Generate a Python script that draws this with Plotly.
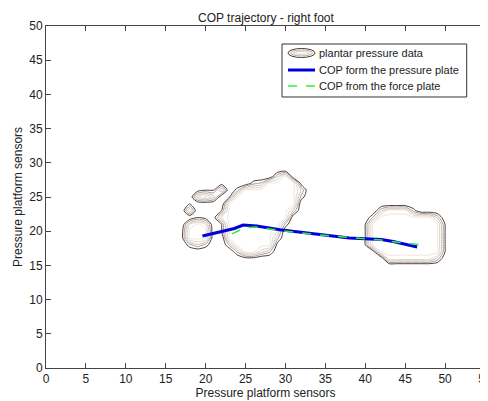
import plotly.graph_objects as go

# ---- data -------------------------------------------------------------
# pressure sensor grid (columns x = 15..51, rows y = 29 .. 15, top to bottom)
sensor_x = list(range(15, 52))
sensor_y = list(range(29, 14, -1))
pressure_rows = [
    "0000000000000000000000000000000000000",  # y=29
    "0000000000000059000000000000000000000",  # y=28
    "0000000100034999910000000000000000000",  # y=27
    "0000122703999999950000000000000000000",  # y=26
    "0000796029999999930000000000000000000",  # y=25
    "0002000099999999900000000000000000000",  # y=24
    "0007000299999999500000000005888300000",  # y=23
    "0000211799999999000000000049999999500",  # y=22
    "0007970299999993000000000299999999920",  # y=21
    "0019990299999970000000000299999999920",  # y=20
    "0019990099999940000000000299999999920",  # y=19
    "0003530049999910000000000299999999920",  # y=18
    "0000000004996400000000000019999999920",  # y=17
    "0000000000110000000000000000888888500",  # y=16
    "0000000000000000000000000000000000000",  # y=15
]

# centre of pressure trajectories
cop_plate_x = [19.6, 22.2, 23.6, 24.7, 26.4, 29.3, 35.6, 38.0, 42.0, 43.5, 46.5]
cop_plate_y = [19.3, 20.0, 20.4, 20.9, 20.75, 20.2, 19.4, 19.0, 18.8, 18.5, 17.7]
cop_force_x = [23.3, 24.9, 26.4, 29.3, 35.6, 42.0, 44.0, 47.1]
cop_force_y = [19.6, 20.5, 20.6, 20.1, 19.3, 18.7, 18.4, 18.0]

x_ticks = list(range(0, 56, 5))
y_ticks = list(range(0, 51, 5))

title_text = "COP trajectory - right foot"
labels = ["plantar pressure data", "COP form the pressure plate", "COP from the force plate"]
axis_label = "Pressure platform sensors"

BLUE = "#0000dd"
GREEN = "#33ee33"

# ---- figure -----------------------------------------------------------
z = [[int(c) for c in row] for row in pressure_rows]

fig = go.Figure()
fig.add_trace(go.Contour(
    x=sensor_x, y=sensor_y, z=z,
    contours=dict(start=2, end=8.5, size=1.625, coloring="lines"),
    colorscale=[[0, "#4a3c38"], [0.25, "#a89a92"], [0.5, "#cabfb6"],
                [0.75, "#ddd4cb"], [1, "#ebe5de"]],
    zauto=False, zmin=2, zmax=8.5,
    line=dict(width=1, smoothing=0.6),
    showscale=False, showlegend=False, hoverinfo="skip",
))
fig.add_trace(go.Scatter(
    x=cop_plate_x, y=cop_plate_y, mode="lines", name=labels[1],
    line=dict(color=BLUE, width=3), showlegend=False,
))
fig.add_trace(go.Scatter(
    x=cop_force_x, y=cop_force_y, mode="lines", name=labels[2],
    line=dict(color=GREEN, width=1.5, dash="dash"), showlegend=False,
))

axis_common = dict(
    ticks="inside", ticklen=5, tickcolor="#444", mirror="allticks",
    showline=True, linecolor="#444", linewidth=1,
    showgrid=False, zeroline=False, automargin=False,
    tickfont=dict(size=12), ticklabeloverflow="allow",
)
fig.update_xaxes(range=[0, 55], tickvals=x_ticks,
                 title=dict(text=axis_label, standoff=0, font=dict(size=12)),
                 **axis_common)
fig.update_yaxes(range=[0, 50], tickvals=y_ticks, **axis_common)

# ---- hand-drawn legend (paper coordinates) ------------------------------
lx0, lx1, ly0, ly1 = 0.5376, 0.9583, 0.7924, 0.9474
row_y = [0.9211, 0.8713, 0.8246]
sx0, sx1, tx = 0.5513, 0.6128, 0.6173
shapes = [dict(type="rect", xref="paper", yref="paper", x0=lx0, x1=lx1, y0=ly0, y1=ly1,
               line=dict(color="#333", width=1), fillcolor="white", layer="above")]
dy = 0.0132
for inset_x, inset_y, col in [(0, 0, "#4a3c38"), (0.006, 0.0045, "#b8aca2"), (0.012, 0.009, "#d8cec4")]:
    shapes.append(dict(type="circle", xref="paper", yref="paper",
                       x0=sx0 + inset_x, x1=sx1 - inset_x,
                       y0=row_y[0] - dy + inset_y, y1=row_y[0] + dy - inset_y,
                       line=dict(color=col, width=1), layer="above"))
shapes.append(dict(type="line", xref="paper", yref="paper", x0=sx0, x1=sx1, y0=row_y[1], y1=row_y[1],
                   line=dict(color=BLUE, width=3), layer="above"))
shapes.append(dict(type="line", xref="paper", yref="paper", x0=sx0, x1=sx1, y0=row_y[2], y1=row_y[2],
                   line=dict(color=GREEN, width=1.5, dash="dash"), layer="above"))
annotations = [dict(text=t, x=tx, y=yy, xref="paper", yref="paper", xanchor="left", yanchor="middle",
                    showarrow=False, font=dict(size=11, color="#222"))
               for t, yy in zip(labels, row_y)]
# y-axis title
annotations.append(dict(text=axis_label, x=-0.0638, y=0.5, xref="paper", yref="paper",
                        textangle=-90, showarrow=False, xanchor="center", yanchor="middle",
                        font=dict(size=12, color="#222")))
# chart title
annotations.append(dict(text=title_text, x=0.5, y=1.049, xref="paper", yref="paper",
                        showarrow=False, xanchor="center", yanchor="top",
                        font=dict(size=12, color="#222")))

# the page adds an 8px body margin, so the figure is 8px smaller than the window
fig.update_layout(
    width=480, height=393,
    margin=dict(l=38, r=3, t=18, b=33),
    paper_bgcolor="white", plot_bgcolor="white",
    font=dict(family="Liberation Sans, Arial, sans-serif", size=11, color="#222"),
    showlegend=False,
    shapes=shapes,
    annotations=annotations,
)

fig.write_html("out.html")
